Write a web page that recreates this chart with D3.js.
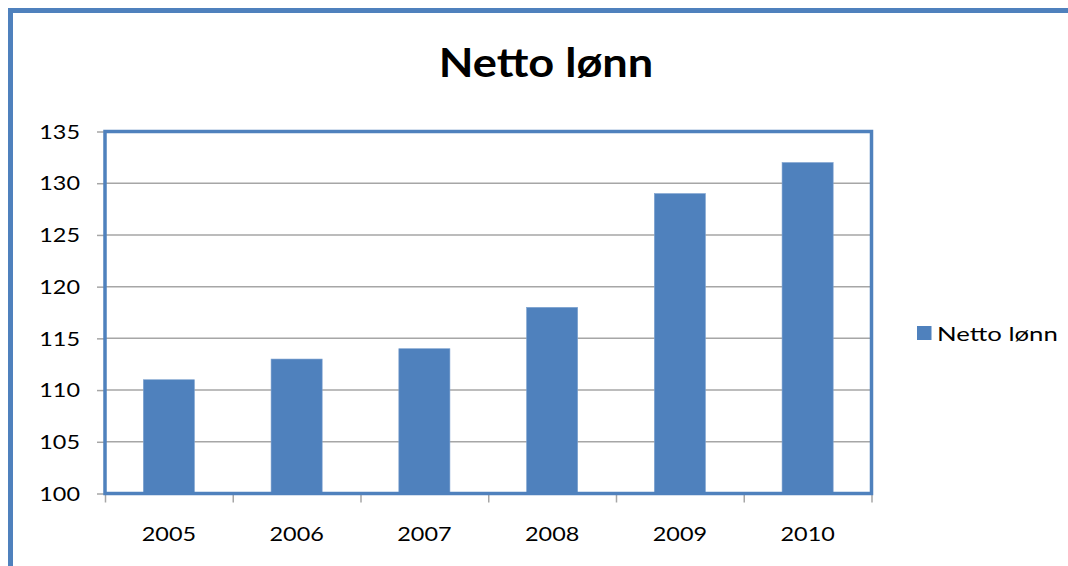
<!DOCTYPE html>
<html><head><meta charset="utf-8">
<script src="https://cdn.jsdelivr.net/npm/d3@7"></script>
<style>
html,body{margin:0;padding:0;background:#fff;}
text{font-family:Lato,"Liberation Sans",sans-serif;fill:#000;}
</style></head>
<body><svg id="c" width="1068" height="566"></svg>
<script>
const title = "Netto lønn";
const seriesName = "Netto lønn";
const years = ["2005","2006","2007","2008","2009","2010"];
const values = [111, 113, 114, 118, 129, 132];
const yTicks = [100,105,110,115,120,125,130,135];

const svg = d3.select("#c");
const blue = "#4F81BD";
const grid = "#A6A6A6";
const L = 105, R = 871.5, T = 131.5, B = 493.5;

// outer chart frame (extends beyond picture on right/bottom)
svg.append("path").attr("d","M10.5,570 L10.5,10.5 L1075,10.5")
  .attr("fill","none").attr("stroke",blue).attr("stroke-width",5);

const x = d3.scaleBand().domain(years).range([L,R]).paddingInner(0.6).paddingOuter(0.3);
const y = d3.scaleLinear().domain([100,135]).range([B,T]);
const xb = d3.scaleLinear().domain([0,years.length]).range([L,R]);

// gridlines
svg.append("g").selectAll("line").data(yTicks.slice(1,-1)).join("line")
  .attr("x1",L).attr("x2",R).attr("y1",d=>y(d)).attr("y2",d=>y(d))
  .attr("stroke",grid).attr("stroke-width",1.5);

// y axis ticks
const ya = svg.append("g").attr("transform",`translate(${L},0)`)
  .call(d3.axisLeft(y).tickValues(yTicks).tickSize(8).tickFormat(""));
ya.select(".domain").remove();
ya.selectAll("line").attr("stroke",grid).attr("stroke-width",1.5);

// x axis ticks at category boundaries
const xa = svg.append("g").attr("transform",`translate(0,${B})`)
  .call(d3.axisBottom(xb).tickValues(d3.range(years.length+1)).tickSize(9).tickFormat(""));
xa.select(".domain").remove();
xa.selectAll("line").attr("stroke",grid).attr("stroke-width",1.5);

// bars
svg.append("g").selectAll("rect").data(values).join("rect")
  .attr("x",(d,i)=>x(years[i])).attr("width",x.bandwidth())
  .attr("y",d=>y(d)).attr("height",d=>y(100)-y(d))
  .attr("fill",blue).attr("stroke","#7FA3D0").attr("stroke-width",0.6);

// plot border
svg.append("rect").attr("x",L).attr("y",T).attr("width",R-L).attr("height",B-T)
  .attr("fill","none").attr("stroke",blue).attr("stroke-width",3.5);

function txt(g, s, tx, ty, size, sx, anchor, weight){
  return g.append("text").attr("transform",`translate(${tx},${ty}) scale(${sx},1)`)
    .attr("text-anchor",anchor).attr("dominant-baseline","central")
    .attr("font-size",size).attr("font-weight",weight||"normal").text(s);
}

const tg = svg.append("g");
yTicks.forEach(v=>txt(tg, String(v), 80, y(v), 19.5, 1.2, "end"));
years.forEach(yr=>txt(tg, yr, x(yr)+x.bandwidth()/2, 534, 19.5, 1.2, "middle"));

// title
txt(tg, title, 546, 62, 40, 1.13, "middle", "bold");

// legend
svg.append("rect").attr("x",917).attr("y",326).attr("width",14.5).attr("height",14).attr("fill",blue);
txt(tg, seriesName, 937, 333.5, 19.5, 1.32, "start");
</script></body></html>
